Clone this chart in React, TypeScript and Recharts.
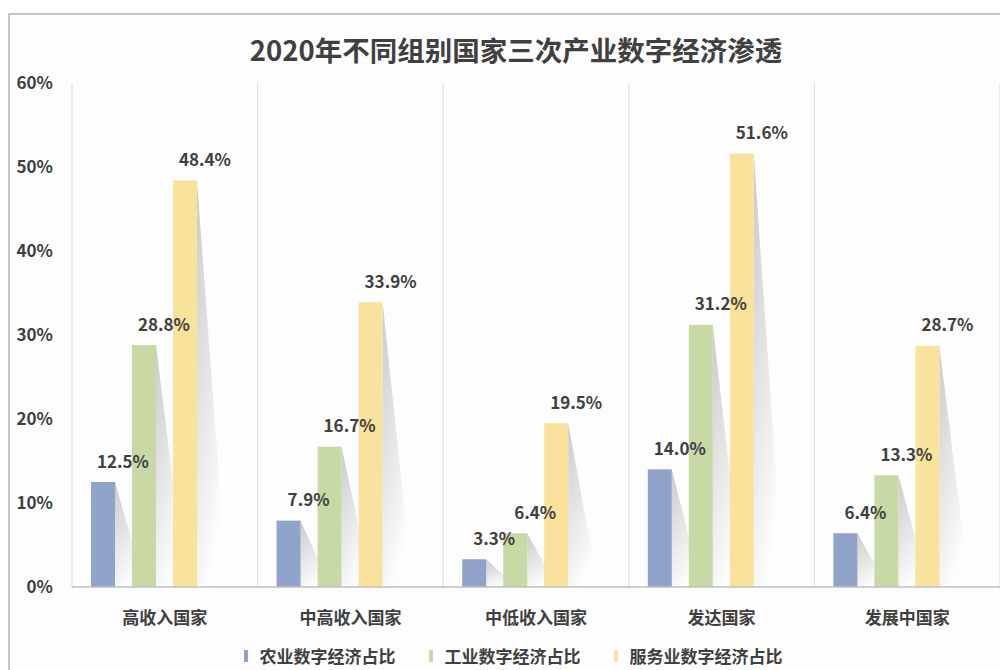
import React from 'react';
import { BarChart, Bar, XAxis, YAxis, CartesianGrid, Legend, LabelList } from 'recharts';

const categories = ['高收入国家', '中高收入国家', '中低收入国家', '发达国家', '发展中国家'];
const agriculture = [12.5, 7.9, 3.3, 14.0, 6.4];
const industry = [28.8, 16.7, 6.4, 31.2, 13.3];
const services = [48.4, 33.9, 19.5, 51.6, 28.7];
const spacer = [0, 0, 0, 0, 0];
const seriesNames = ['农业数字经济占比', '工业数字经济占比', '服务业数字经济占比'];
const seriesKeys = ['agriculture', 'industry', 'services'];
const seriesColors = ['#8FA3CB', '#C8D9A6', '#F9E29B'];
const yTicks = [0, 10, 20, 30, 40, 50, 60];
const title = '2020年不同组别国家三次产业数字经济渗透';

const data = categories.map((c, i) => ({
  cat: c,
  agriculture: agriculture[i],
  industry: industry[i],
  services: services[i],
  spacer: spacer[i],
}));

const FONT = '"Noto Sans CJK SC", "Noto Sans", sans-serif';
const TEXT = '#404040';

const ShadowBar = (props: any) => {
  const { x, y, width, height, fill, index, dataKey } = props;
  if (!height || height <= 0) return null;
  const id = `sh-${dataKey}-${index}`;
  const sx = x + width;
  return (
    <g>
      <defs>
        <linearGradient id={id} x1="0" y1="0" x2="0.4" y2="1">
          <stop offset="0%" stopColor="#8c8c8c" stopOpacity={0.45} />
          <stop offset="100%" stopColor="#8c8c8c" stopOpacity={0} />
        </linearGradient>
      </defs>
      <polygon points={`${sx},${y} ${sx + 30},${y + height} ${sx},${y + height}`} fill={`url(#${id})`} />
      <rect x={x} y={y} width={width} height={height} fill={fill} />
    </g>
  );
};

const ValueLabel = (props: any) => {
  const { x, y, width, value } = props;
  return (
    <text
      x={x + width / 2 + 20}
      y={y - 22}
      textAnchor="middle"
      dominantBaseline="central"
      fill={TEXT}
      fontSize={17}
      fontWeight={700}
      fontFamily={FONT}
    >
      {`${Number(value).toFixed(1)}%`}
    </text>
  );
};

const LegendContent = () => (
  <div
    style={{
      display: 'flex',
      justifyContent: 'center',
      alignItems: 'center',
      paddingLeft: 18,
      paddingTop: 9,
      fontFamily: FONT,
      fontWeight: 700,
      fontSize: 17,
      lineHeight: '20px',
      color: TEXT,
    }}
  >
    {seriesNames.map((n, i) => (
      <div key={n} style={{ display: 'flex', alignItems: 'center', marginRight: i < 2 ? 33 : 0 }}>
        <span style={{ display: 'inline-block', width: 4, height: 12, background: seriesColors[i], marginRight: 12 }} />
        <span>{n}</span>
      </div>
    ))}
  </div>
);

export default function App() {
  return (
    <div style={{ position: 'relative', width: 1000, height: 662, background: '#fdfdfd', overflow: 'hidden' }}>
      <div
        style={{
          position: 'absolute',
          top: 5,
          left: 0,
          right: 0,
          bottom: 0,
          borderTop: '2px solid #c4c4c4',
          borderLeft: '2px solid #c4c4c4',
        }}
      />
      <div
        style={{
          position: 'absolute',
          top: 25,
          left: 8,
          width: 1000,
          textAlign: 'center',
          fontFamily: FONT,
          fontWeight: 700,
          fontSize: 27.5,
          lineHeight: '32px',
          color: TEXT,
        }}
      >
        {title}
      </div>
      <BarChart
        width={1000}
        height={662}
        data={data}
        margin={{ top: 75, right: 8, bottom: 0, left: 0 }}
        barSize={24}
        barGap={17}
      >
        <CartesianGrid
          horizontal={false}
          vertical
          stroke="#d9d9d9"
          verticalCoordinatesGenerator={(p: any) => {
            const off = p.offset;
            return categories.map((_, i) => off.left + (i * off.width) / categories.length).concat([off.left + off.width]);
          }}
        />
        <XAxis
          dataKey="cat"
          height={50}
          axisLine={{ stroke: '#bfbfbf', strokeWidth: 1.5 }}
          tickLine={false}
          tickMargin={19}
          tick={{ fill: TEXT, fontSize: 17, fontWeight: 700, fontFamily: FONT }}
        />
        <YAxis
          width={64}
          domain={[0, 60]}
          ticks={yTicks}
          axisLine={false}
          tickLine={false}
          tickMargin={13}
          tickFormatter={(v: number) => `${v}%`}
          tick={{ fill: TEXT, fontSize: 17, fontWeight: 700, fontFamily: FONT }}
        />
        <Legend verticalAlign="bottom" height={33} content={<LegendContent />} />
        {seriesKeys.map((k, i) => (
          <Bar key={k} dataKey={k} name={seriesNames[i]} fill={seriesColors[i]} shape={<ShadowBar />} isAnimationActive={false}>
            <LabelList dataKey={k} content={<ValueLabel />} />
          </Bar>
        ))}
        <Bar dataKey="spacer" fill="transparent" legendType="none" isAnimationActive={false} />
      </BarChart>
    </div>
  );
}
